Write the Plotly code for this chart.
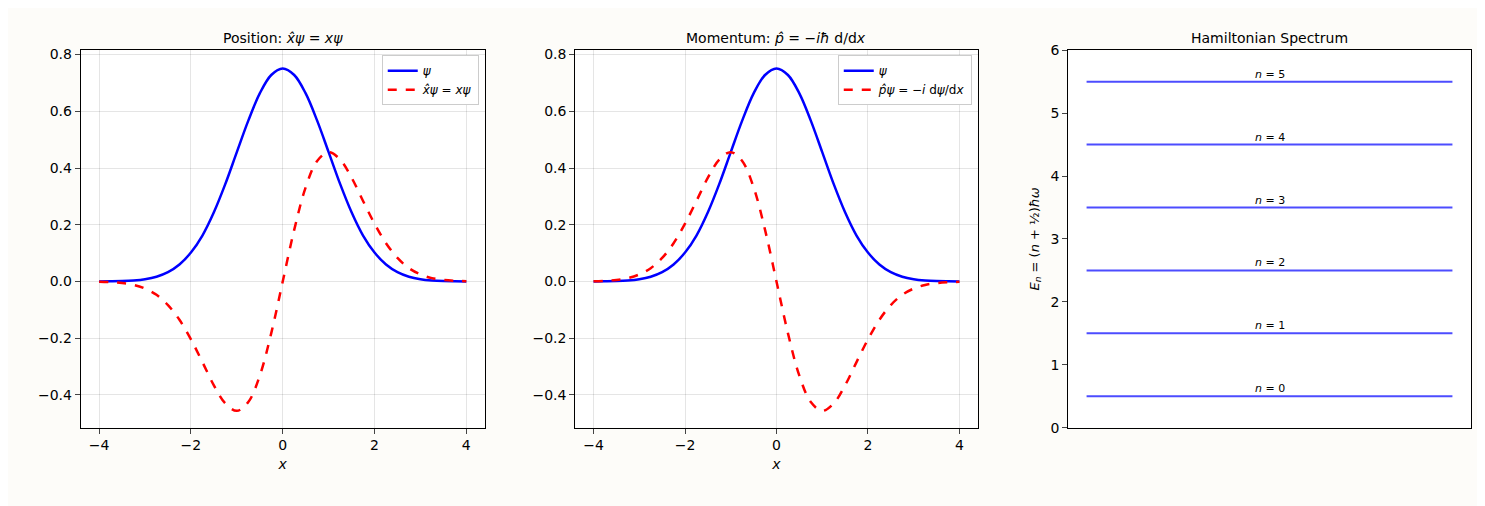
import plotly.graph_objects as go

# values (x from -4 to 4, step 0.25)
x = [-4 + 0.25 * i for i in range(33)]
psi_half = [0.751, 0.728, 0.663, 0.567, 0.456, 0.344, 0.244, 0.162, 0.102,
            0.060, 0.033, 0.017, 0.0083, 0.0038, 0.0016, 0.0007, 0.0003]
xpsi_half = [0.0, 0.182, 0.332, 0.425, 0.456, 0.430, 0.366, 0.284, 0.204,
             0.135, 0.083, 0.047, 0.025, 0.012, 0.0056, 0.0025, 0.0010]

psi = psi_half[:0:-1] + psi_half
xpsi = [-v for v in xpsi_half[:0:-1]] + xpsi_half
ppsi = [-v for v in xpsi]

levels = [0, 1, 2, 3, 4, 5]
energies = [0.5, 1.5, 2.5, 3.5, 4.5, 5.5]

font = dict(family="DejaVu Sans", size=14, color="black")
blue = "#0000ff"
red = "#ff0000"

fig = go.Figure()

fig.add_trace(go.Scatter(x=x, y=psi, mode="lines", line=dict(color=blue, width=2.5, shape="spline"),
                         name="<i>ψ</i>", xaxis="x", yaxis="y", legend="legend"))
fig.add_trace(go.Scatter(x=x, y=xpsi, mode="lines", line=dict(color=red, width=2.5, dash="dash", shape="spline"),
                         name="<i>x̂ψ</i> = <i>xψ</i>", xaxis="x", yaxis="y", legend="legend"))
fig.add_trace(go.Scatter(x=x, y=psi, mode="lines", line=dict(color=blue, width=2.5, shape="spline"),
                         name="<i>ψ</i>", xaxis="x2", yaxis="y2", legend="legend2"))
fig.add_trace(go.Scatter(x=x, y=ppsi, mode="lines", line=dict(color=red, width=2.5, dash="dash", shape="spline"),
                         name="<i>p̂ψ</i> = −<i>i</i> d<i>ψ</i>/d<i>x</i>", xaxis="x2", yaxis="y2", legend="legend2"))

for n, e in zip(levels, energies):
    fig.add_trace(go.Scatter(x=[0, 1], y=[e, e], mode="lines", line=dict(color="rgba(0,0,255,0.7)", width=2),
                             xaxis="x3", yaxis="y3", showlegend=False, hoverinfo="skip"))
    fig.add_annotation(x=0.5, y=e, xref="x3", yref="y3", text="<i>n</i> = %d" % n, showarrow=False,
                       yanchor="bottom", yshift=-1, font=dict(family="DejaVu Sans", size=11))

ax = dict(showline=True, linecolor="black", mirror=True, ticks="outside", ticklen=5,
          zeroline=False, tickfont=font)
grid = dict(showgrid=True, gridcolor="rgba(0,0,0,0.1)")
xt = dict(text="<i>x</i>", standoff=6, font=dict(family="DejaVu Sans", size=14))

fig.update_layout(
    width=1485, height=506,
    margin=dict(l=0, r=0, t=0, b=0),
    paper_bgcolor="#fdfcf9", plot_bgcolor="white",
    font=font,
    xaxis=dict(domain=[0.049, 0.321], range=[-4.4, 4.4], dtick=2, anchor="y", title=xt, **ax, **grid),
    yaxis=dict(domain=[0.16, 0.93], range=[-0.515, 0.815], dtick=0.2, tickformat=".1f",
               anchor="x", **ax, **grid),
    xaxis2=dict(domain=[0.382, 0.653], range=[-4.4, 4.4], dtick=2, anchor="y2", title=xt, **ax, **grid),
    yaxis2=dict(domain=[0.16, 0.93], range=[-0.515, 0.815], dtick=0.2, tickformat=".1f",
                anchor="x2", **ax, **grid),
    xaxis3=dict(domain=[0.714, 0.985], range=[-0.05, 1.05], anchor="y3", showticklabels=False,
                showline=True, linecolor="black", mirror=True, ticks="", showgrid=False, zeroline=False),
    yaxis3=dict(domain=[0.16, 0.93], range=[0, 6], dtick=1, anchor="x3", showgrid=False,
                title=dict(text="<i>E<sub>n</sub></i> = (<i>n</i> + ½)<i>ħω</i>", standoff=8,
                           font=dict(family="DejaVu Sans", size=13)), **ax),
    legend=dict(x=0.317, y=0.92, xanchor="right", yanchor="top", bgcolor="white",
                bordercolor="#cccccc", borderwidth=1, font=dict(size=12)),
    legend2=dict(x=0.649, y=0.92, xanchor="right", yanchor="top", bgcolor="white",
                 bordercolor="#cccccc", borderwidth=1, font=dict(size=12)),
)

titles = [(0.185, "Position: <i>x̂ψ</i> = <i>xψ</i>"),
          (0.5175, "Momentum: <i>p̂</i> = −<i>iħ</i> d/d<i>x</i>"),
          (0.8495, "Hamiltonian Spectrum")]
for xc, t in titles:
    fig.add_annotation(x=xc, y=0.935, xref="paper", yref="paper", text=t, showarrow=False,
                       xanchor="center", yanchor="bottom", font=dict(family="DejaVu Sans", size=14))

fig.write_html("out.html")
